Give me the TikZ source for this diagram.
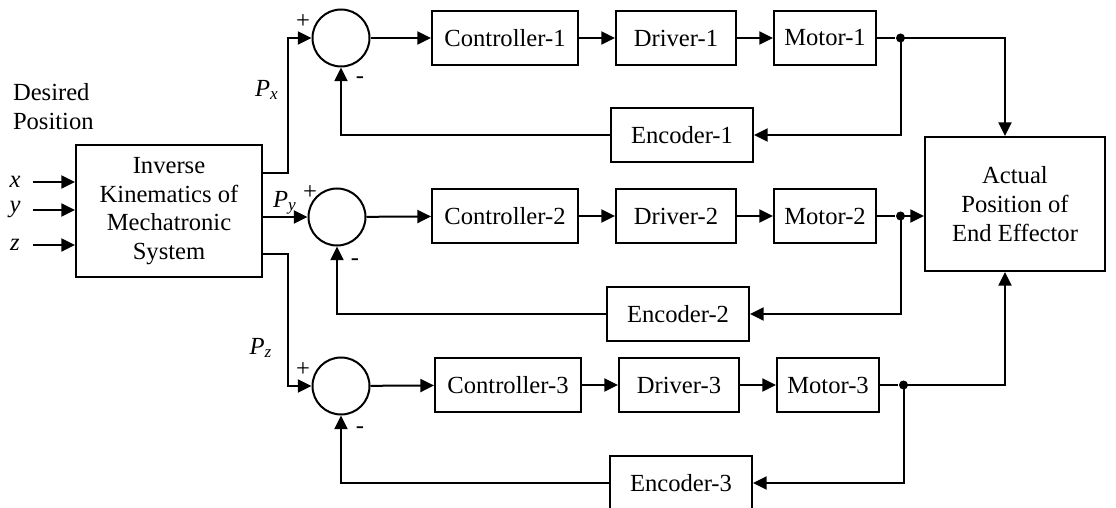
\documentclass[tikz,border=0pt]{standalone}
\usepackage{fontspec}
\setmainfont{Liberation Serif}
\usetikzlibrary{positioning, arrows.meta}
\tikzset{>={Triangle[length=6.8pt,width=6.5pt]},
node distance=18pt,
block/.style={draw, line width=1pt, minimum height=27pt, inner sep=0pt, align=center,
  font=\fontsize{12.3}{14.3}\selectfont},
sum/.style={draw, line width=1pt, circle, minimum size=28.5pt, inner sep=0pt},
dot/.style={circle, fill, inner sep=0pt, minimum size=4.5pt},
lbl/.style={inner sep=0pt, font=\fontsize{12.3}{14.5}\selectfont}}
\newcommand{\sig}[2]{\textit{#1}\textsubscript{\textit{#2}}}

\begin{document}
\begin{tikzpicture}[x=0.5pt, y=-0.5pt, line width=1pt]
\useasboundingbox (0,0) rectangle (1116,508);
% desired position and inverse kinematics
\node[lbl, align=left, anchor=west] (des) at (12,107) {Desired\\Position};
\node[block, minimum width=93pt, minimum height=66pt] (ik) at (169,211) {Inverse\\Kinematics of\\Mechatronic\\System};
\node[lbl] (inx) at (15,182) {\textit{x}};
\node[lbl] (iny) at (15,210) {\textit{y}};
\node[lbl] (inz) at (15,245) {\textit{z}};
\draw[->] ([xshift=6pt]inx.east) -- (inx -| ik.west);
\draw[->] ([xshift=6pt]iny.east) -- (iny -| ik.west);
\draw[->] ([xshift=6pt]inz.east) -- (inz -| ik.west);

% summing junctions
\node[sum] (sum1) at (341,38) {};
\node[sum] (sum2) at (337,217) {};
\node[sum] (sum3) at (341,386) {};
\node[lbl] at (303,22) {+};
\node[lbl] at (310,193) {+};
\node[lbl] at (303,370) {+};
\node[lbl] at (360,80) {-};
\node[lbl] at (355,262) {-};
\node[lbl] at (360,430) {-};
\node[lbl] (px) at (267,90) {\sig{P}{x}};
\node[lbl] (py) at (285,203) {\sig{P}{y}};
\node[lbl] (pz) at (261,348) {\sig{P}{z}};

% forward paths
\node[block, minimum width=73pt] (ctrl1) at (505,38) {Controller-1};
\node[block, minimum width=60pt, right=of ctrl1] (drv1) {Driver-1};
\node[block, minimum width=51pt, right=of drv1] (mot1) {Motor-1};
\node[dot, right=9pt of mot1] (j1) {};
\node[block, minimum width=73pt] (ctrl2) at (505,216) {Controller-2};
\node[block, minimum width=60pt, right=of ctrl2] (drv2) {Driver-2};
\node[block, minimum width=51pt, right=of drv2] (mot2) {Motor-2};
\node[dot, right=9pt of mot2] (j2) {};
\node[block, minimum width=73pt] (ctrl3) at (508,385) {Controller-3};
\node[block, minimum width=60pt, right=of ctrl3] (drv3) {Driver-3};
\node[block, minimum width=51pt, right=of drv3] (mot3) {Motor-3};
\node[dot, right=9pt of mot3] (j3) {};

% encoders
\node[block, minimum width=71pt] (enc1) at (682,135) {Encoder-1};
\node[block, minimum width=71pt] (enc2) at (678,314) {Encoder-2};
\node[block, minimum width=71pt] (enc3) at (681,483) {Encoder-3};

\node[block, minimum width=90pt, minimum height=67pt] (act) at (1015,204) {Actual\\Position of\\End Effector};

\draw[->] ([yshift=19pt]ik.east) -- ++(12.5pt,0) |- (sum1);
\draw[->] (ik.east |- sum2) -- (sum2);
\draw[->] ([yshift=-21.5pt]ik.east) -- ++(12.5pt,0) |- (sum3);

\draw[->] (sum1) -- (ctrl1);
\draw[->] (ctrl1) -- (drv1);
\draw[->] (drv1) -- (mot1);
\draw (mot1) -- (j1);
\draw[->] (sum2) -- (ctrl2);
\draw[->] (ctrl2) -- (drv2);
\draw[->] (drv2) -- (mot2);
\draw (mot2) -- (j2);
\draw[->] (sum3) -- (ctrl3);
\draw[->] (ctrl3) -- (drv3);
\draw[->] (drv3) -- (mot3);
\draw (mot3) -- (j3);

\draw[->] (j1.center) -| ([xshift=-5pt]act.north);
\draw[->] (j2.center) -- (j2 -| act.west);
\draw[->] (j3.center) -| ([xshift=-5pt]act.south);

% feedback
\draw[->] (j1.center) |- (enc1);
\draw[->] (enc1) -| (sum1);
\draw[->] (j2.center) |- (enc2);
\draw[->] (enc2) -| (sum2);
\draw[->] (j3.center) |- (enc3);
\draw[->] (enc3) -| (sum3);
\end{tikzpicture}
\end{document}
